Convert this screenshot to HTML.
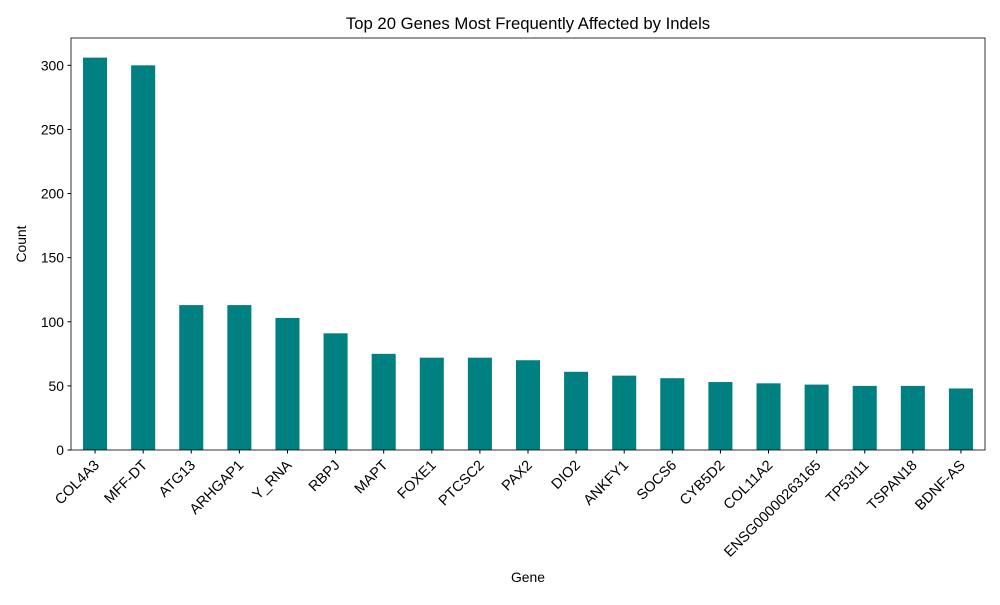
<!DOCTYPE html>
<html><head><meta charset="utf-8"><style>
body{margin:0;background:#fff;font-family:"Liberation Sans","DejaVu Sans",sans-serif}
svg text{font-family:"Liberation Sans","DejaVu Sans",sans-serif;fill:#000}
</style></head><body>
<svg id="chart" width="1000" height="600">
<text x="528" y="29" font-size="16.7" text-anchor="middle">Top 20 Genes Most Frequently Affected by Indels</text>
<text x="528" y="582" font-size="13.9" text-anchor="middle">Gene</text>
<text x="26" y="244" font-size="13.9" text-anchor="middle" transform="rotate(-90 26 244)">Count</text>
<g id="bars"></g><g id="axes"></g>
</svg>
<script>
const categories=["COL4A3","MFF-DT","ATG13","ARHGAP1","Y_RNA","RBPJ","MAPT","FOXE1","PTCSC2","PAX2","DIO2","ANKFY1","SOCS6","CYB5D2","COL11A2","ENSG00000263165","TP53I11","TSPAN18","BDNF-AS"];
const counts=[306,300,113,113,103,91,75,72,72,70,61,58,56,53,52,51,50,50,48];
const yTicks=[0,50,100,150,200,250,300];
const NS="http://www.w3.org/2000/svg";
const L=71,R=985,T=38,B=450;
const yMax=Math.max(...counts)*1.05;
const y=v=>B-(v/yMax)*(B-T);
const step=(R-L)/categories.length;
const x=i=>L+step*(i+0.5);
const bars=document.getElementById('bars'),axes=document.getElementById('axes');
function mk(t,a,p){const e=document.createElementNS(NS,t);for(const k in a)e.setAttribute(k,a[k]);p.appendChild(e);return e;}
counts.forEach((v,i)=>{
 const r=mk('rect',{x:x(i)-step*0.25,y:y(v),width:step*0.5,height:B-y(v),fill:'#008080'},bars);
 
 
 const tk=mk('line',{x1:x(i),x2:x(i),y1:B,y2:B+3.5,stroke:'#000'},axes);
 
 
 const tx=x(i)+5,ty=B+16;
 const t=mk('text',{x:tx,y:ty,'font-size':14.5,'text-anchor':'end',transform:`rotate(-45 ${tx} ${ty})`},axes);
 t.textContent=categories[i];
 
 
});
yTicks.forEach(v=>{
 const tk=mk('line',{x1:L-3.5,x2:L,y1:y(v),y2:y(v),stroke:'#000'},axes);
 
 
 const t=mk('text',{x:L-7,y:y(v)+5,'font-size':13.9,'text-anchor':'end'},axes);
 t.textContent=v;
 
 
});
const f=mk('rect',{x:L,y:T,width:R-L,height:B-T,fill:'none',stroke:'#000','stroke-width':0.8},axes);


</script>
</body></html>
